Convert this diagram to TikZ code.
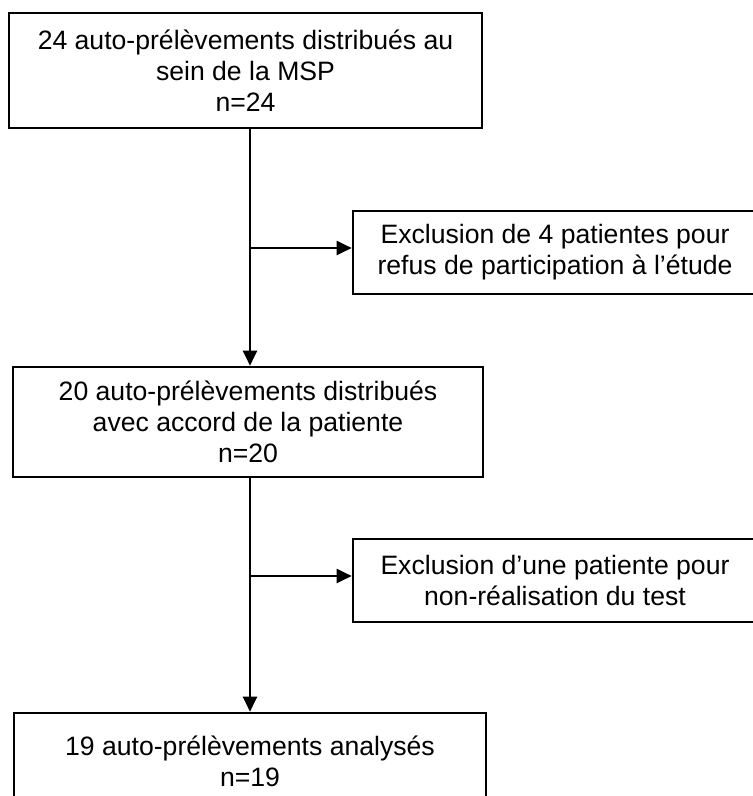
\documentclass[tikz,border=0pt]{standalone}
\usepackage{fontspec}
\setmainfont{Liberation Sans}
\usetikzlibrary{arrows.meta}
\begin{document}
\begin{tikzpicture}[x=1pt,y=1pt,
  box/.style={draw=black, line width=2.6pt, rectangle, align=center, inner sep=0pt,
    font=\fontsize{26.6}{31}\selectfont},
  arr/.style={draw=black, line width=2pt, -{Triangle[length=15pt,width=14pt]}}]
\useasboundingbox (0,0) rectangle (753,-796);
\fill[white] (0,0) rectangle (753,-796);
\node[box, minimum width=473pt, minimum height=115pt] (b1) at (245.5,-70.5)
  {24 auto-prélèvements distribués au\\sein de la MSP\\n=24};
\node[box, minimum width=404pt, minimum height=83pt] (b2) at (555,-252.5)
  {Exclusion de 4 patientes pour\\refus de participation à l’étude};
\node[box, minimum width=470pt, minimum height=110pt] (b3) at (248,-422)
  {20 auto-prélèvements distribués\\avec accord de la patiente\\n=20};
\node[box, minimum width=404pt, minimum height=83pt] (b4) at (555,-580.5)
  {Exclusion d’une patiente pour\\non-réalisation du test};
\node[box, minimum width=472pt, minimum height=97pt] (b5) at (250,-761.5)
  {19 auto-prélèvements analysés\\n=19};
\coordinate (vx) at (250,0);
\coordinate (j1) at (250,-248);
\coordinate (j2) at (250,-576);
\draw[arr] (b1.south -| vx) -- (b3.north -| vx);
\draw[arr] (j1) -- (b2.west |- j1);
\draw[arr] (b3.south -| vx) -- (b5.north -| vx);
\draw[arr] (j2) -- (b4.west |- j2);
\end{tikzpicture}
\end{document}
